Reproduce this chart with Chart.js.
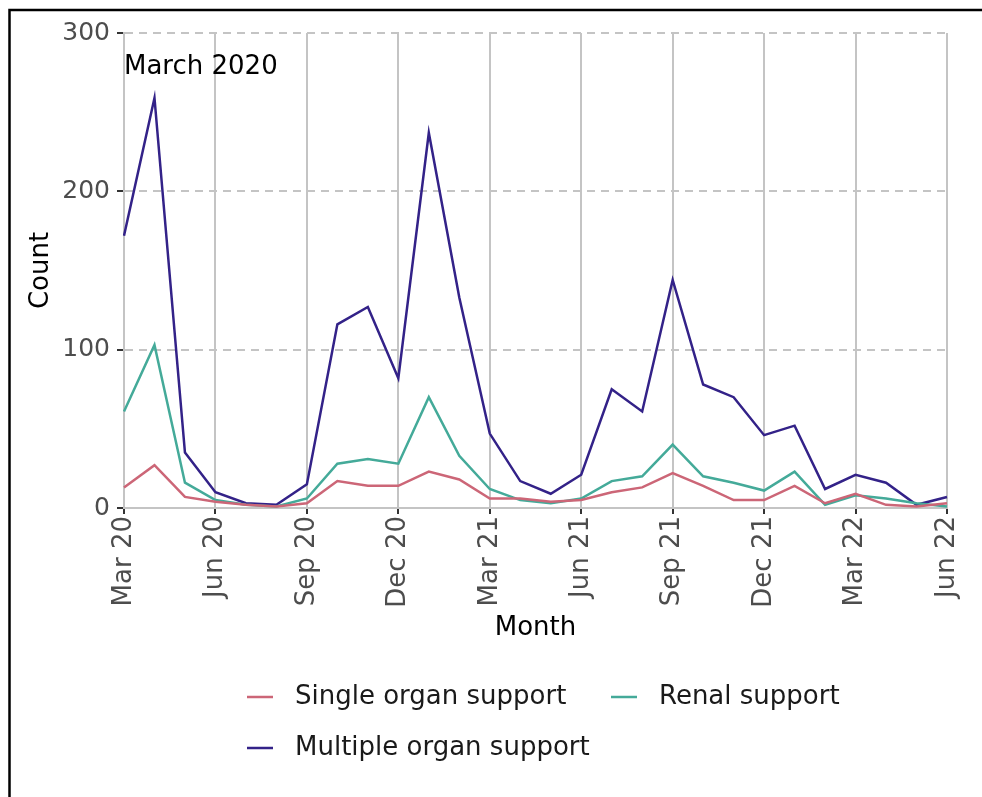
<!DOCTYPE html>
<html>
<head>
<meta charset="utf-8">
<script src="https://cdn.jsdelivr.net/npm/chart.js@4/dist/chart.umd.min.js"></script>
<style>
  html, body { margin: 0; padding: 0; background: #fff; }
  #wrap { position: relative; width: 982px; height: 797px; }
</style>
</head>
<body>
<div id="wrap"><canvas id="c" width="982" height="797"></canvas></div>
<script>
// Monthly categories, March 2020 to June 2022
const months = [
  'Mar 20','Apr 20','May 20','Jun 20','Jul 20','Aug 20','Sep 20','Oct 20','Nov 20','Dec 20',
  'Jan 21','Feb 21','Mar 21','Apr 21','May 21','Jun 21','Jul 21','Aug 21','Sep 21','Oct 21','Nov 21','Dec 21',
  'Jan 22','Feb 22','Mar 22','Apr 22','May 22','Jun 22'
];

// Monthly counts per support type
const singleOrgan = [13, 27, 7, 4, 2, 1, 3, 17, 14, 14, 23, 18, 6, 6, 4, 5, 10, 13, 22, 14, 5, 5, 14, 3, 9, 2, 1, 3];
const renal       = [61, 103, 16, 5, 2, 1, 6, 28, 31, 28, 70, 33, 12, 5, 3, 6, 17, 20, 40, 20, 16, 11, 23, 2, 8, 6, 3, 1];
const multiOrgan  = [172, 259, 35, 10, 3, 2, 15, 116, 127, 82, 237, 133, 47, 17, 9, 21, 75, 61, 144, 78, 70, 46, 52, 12, 21, 16, 2, 7];

const seriesNames = ['Single organ support', 'Renal support', 'Multiple organ support'];
const yTicks = [0, 100, 200, 300];
const panelLabel = 'March 2020';

const FONT = "'DejaVu Sans', sans-serif";
const colors = ['#CC6677', '#44AA99', '#332288'];
const isQuarter = i => i % 3 === 0;

// Page frame, panel label and legend
const decor = {
  id: 'decor',
  beforeDraw(chart) {
    const ctx = chart.ctx;
    ctx.save();
    ctx.fillStyle = '#fff';
    ctx.fillRect(0, 0, chart.width, chart.height);
    ctx.restore();
  },
  afterDraw(chart) {
    const ctx = chart.ctx;
    const area = chart.chartArea;
    ctx.save();
    // frame
    ctx.strokeStyle = '#000';
    ctx.lineWidth = 2.5;
    ctx.beginPath();
    ctx.moveTo(chart.width, 10);
    ctx.lineTo(9.5, 10);
    ctx.lineTo(9.5, chart.height);
    ctx.stroke();

    // panel label
    ctx.fillStyle = '#000';
    ctx.font = `26px ${FONT}`;
    ctx.textBaseline = 'middle';
    ctx.textAlign = 'left';
    ctx.fillText(panelLabel, area.left, area.top + 34);

    // legend
    const slots = [
      { x: 247, y: 697 },
      { x: 611, y: 697 },
      { x: 247, y: 748 }
    ];
    chart.data.datasets.forEach((ds, i) => {
      const s = slots[i];
      ctx.strokeStyle = ds.borderColor;
      ctx.lineWidth = 2.5;
      ctx.beginPath();
      ctx.moveTo(s.x, s.y);
      ctx.lineTo(s.x + 26, s.y);
      ctx.stroke();
      ctx.fillStyle = '#1a1a1a';
      ctx.fillText(ds.label, s.x + 48, s.y);
    });
    ctx.restore();
  }
};

new Chart(document.getElementById('c'), {
  type: 'line',
  data: {
    labels: months,
    datasets: [
      { label: seriesNames[0], data: singleOrgan, borderColor: colors[0] },
      { label: seriesNames[1], data: renal, borderColor: colors[1] },
      { label: seriesNames[2], data: multiOrgan, borderColor: colors[2] }
    ].map(d => Object.assign(d, { borderWidth: 2.5, pointRadius: 0, tension: 0, fill: false }))
  },
  options: {
    responsive: false,
    animation: false,
    devicePixelRatio: 1,
    layout: { padding: { left: 26, top: 33, right: 35, bottom: 153.4 } },
    plugins: { legend: { display: false }, tooltip: { enabled: false } },
    scales: {
      x: {
        type: 'category',
        offset: false,
        afterFit(scale) { scale.height = 135.6; },
        grid: {
          color: c => isQuarter(c.index) ? '#c4c4c4' : 'rgba(0,0,0,0)',
          lineWidth: 2,
          drawTicks: true,
          tickLength: 6,
          tickWidth: 2,
          tickColor: c => isQuarter(c.index) ? '#333' : 'rgba(0,0,0,0)'
        },
        border: { display: true, color: '#c4c4c4', width: 2 },
        ticks: {
          autoSkip: false,
          minRotation: 90,
          maxRotation: 90,
          padding: 2,
          color: '#4d4d4d',
          font: { family: FONT, size: 26 },
          callback(v, i) { return isQuarter(i) ? months[i] : ''; }
        },
        title: {
          display: true,
          text: 'Month',
          color: '#000',
          font: { family: FONT, size: 26 },
          padding: { top: 0, bottom: 0 }
        }
      },
      y: {
        min: 0,
        max: 300,
        afterFit(scale) { scale.width = 98; },
        afterBuildTicks(scale) { scale.ticks = yTicks.map(v => ({ value: v })); },
        grid: {
          color: '#c4c4c4',
          lineWidth: 2,
          drawTicks: true,
          tickLength: 7,
          tickWidth: 2,
          tickColor: '#333'
        },
        border: { display: true, color: '#c4c4c4', width: 2, dash: [8, 6] },
        ticks: {
          padding: 7,
          color: '#4d4d4d',
          font: { family: FONT, size: 25 }
        },
        title: {
          display: true,
          text: 'Count',
          color: '#000',
          font: { family: FONT, size: 26 },
          padding: { top: 0, bottom: 0 }
        }
      }
    }
  },
  plugins: [decor]
});
</script>
</body>
</html>
